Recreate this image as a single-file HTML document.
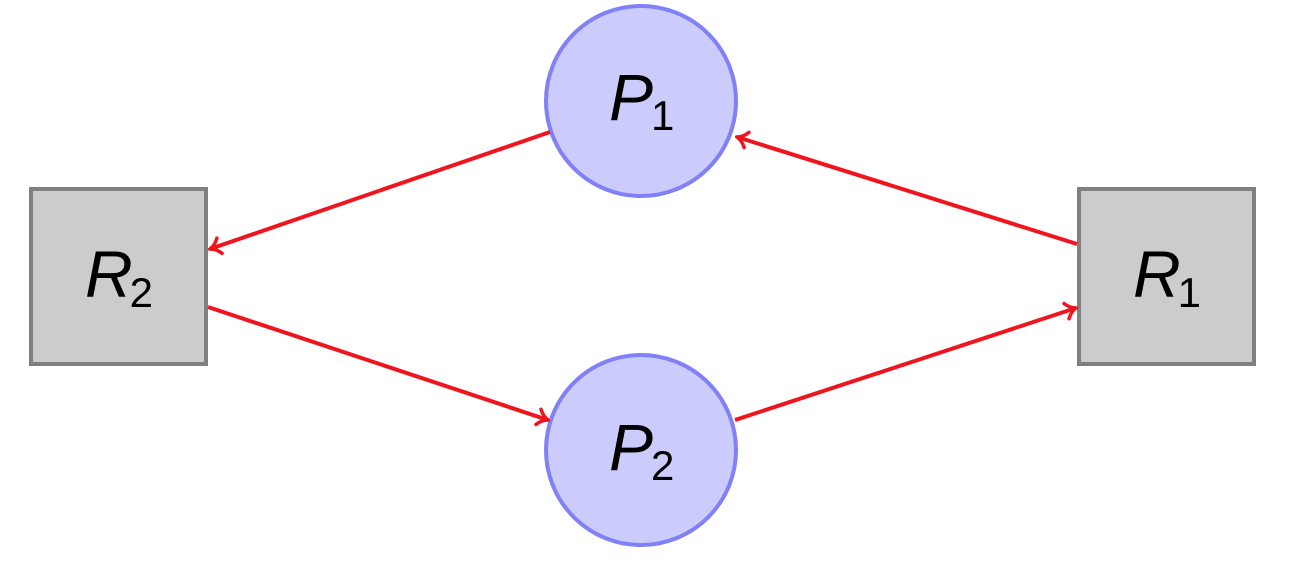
<!DOCTYPE html>
<html><head><style>html,body{margin:0;padding:0;background:#fff;}</style></head>
<body>
<svg width="1290" height="568" viewBox="0 0 1290 568" xmlns="http://www.w3.org/2000/svg">
<defs>
<marker id="a" markerWidth="14" markerHeight="20" refX="12" refY="10" orient="auto" markerUnits="userSpaceOnUse">
<path d="M2,2 Q6,8 12,10 Q6,12 2,18" fill="none" stroke="#f0141e" stroke-width="3.5" stroke-linecap="round"/>
</marker>
</defs>
<rect x="31" y="189" width="175" height="175" fill="#cccccc" stroke="#808080" stroke-width="4"/>
<rect x="1079" y="189" width="175" height="175" fill="#cccccc" stroke="#808080" stroke-width="4"/>
<circle cx="641" cy="101" r="95" fill="#ccccfc" stroke="#8080f8" stroke-width="4"/>
<circle cx="641" cy="450" r="95" fill="#ccccfc" stroke="#8080f8" stroke-width="4"/>
<g stroke="#f0141e" stroke-width="4" fill="none">
<line x1="550" y1="132" x2="210" y2="249" marker-end="url(#a)"/>
<line x1="1077" y1="244" x2="737" y2="137" marker-end="url(#a)"/>
<line x1="208" y1="307" x2="548" y2="420" marker-end="url(#a)"/>
<line x1="735" y1="420" x2="1076" y2="308" marker-end="url(#a)"/>
</g>
<g font-family="'Liberation Sans',sans-serif" font-style="italic" fill="#000">
<text x="609" y="120" font-size="66">P<tspan font-style="normal" font-size="42" dx="-2" dy="10">1</tspan></text>
<text x="609" y="470" font-size="66">P<tspan font-style="normal" font-size="42" dx="-2" dy="10">2</tspan></text>
<text x="85" y="297" font-size="66">R<tspan font-style="normal" font-size="42" dx="-3" dy="10">2</tspan></text>
<text x="1133" y="297" font-size="66">R<tspan font-style="normal" font-size="42" dx="-3" dy="10">1</tspan></text>
</g>
</svg>
</body></html>
